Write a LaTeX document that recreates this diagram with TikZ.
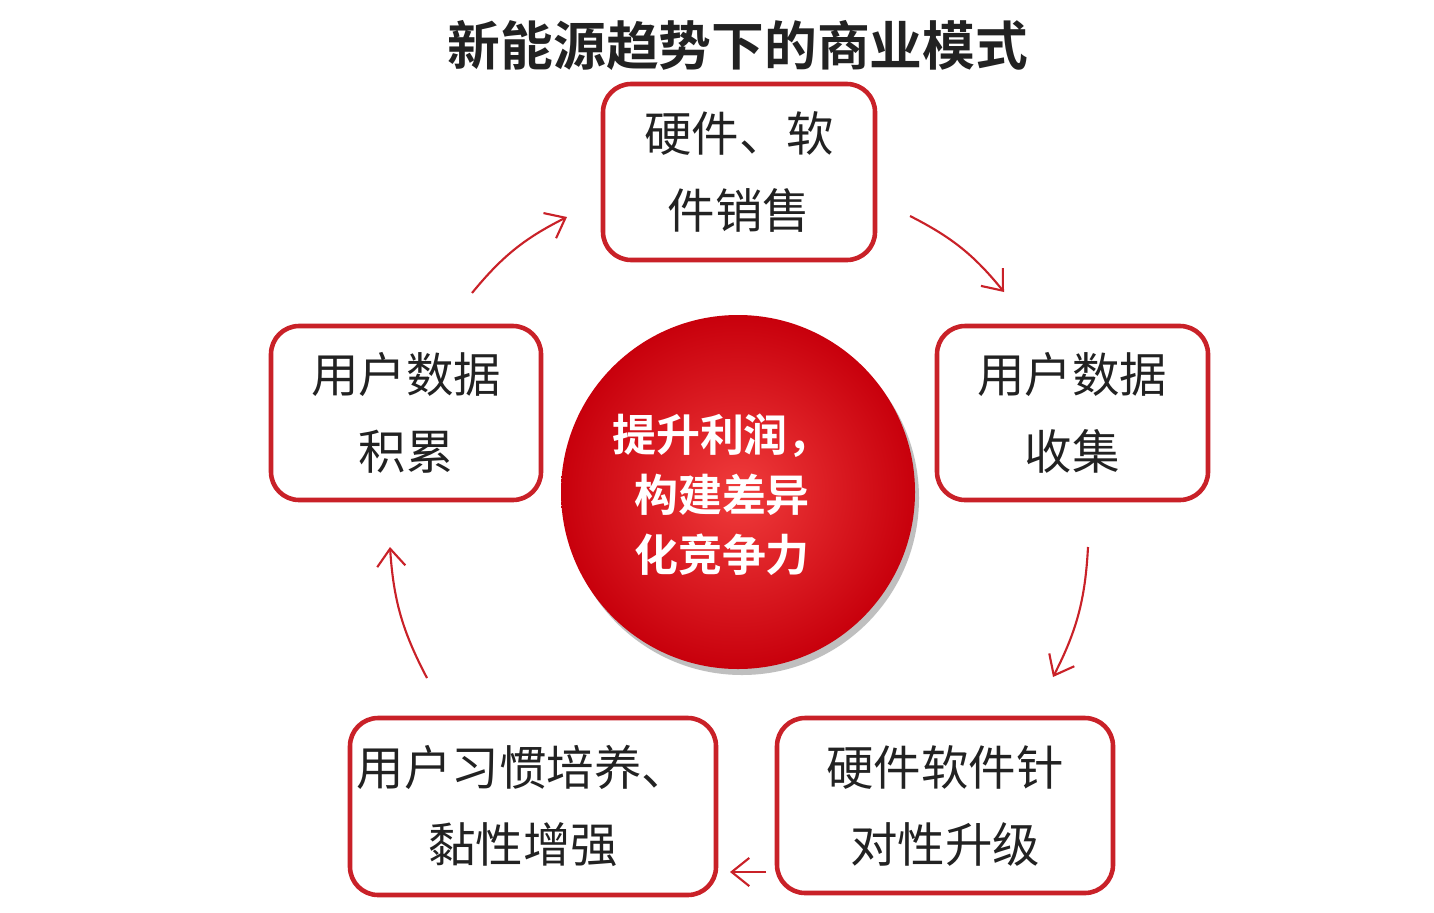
\documentclass[tikz,border=0pt]{standalone}
\usepackage{fontspec}
\newfontfamily\cjk{Noto Sans CJK SC}
\newfontfamily\cjkb{Noto Sans CJK SC Bold}
\usetikzlibrary{arrows.meta,shadows}
\definecolor{bred}{HTML}{C92128}
\definecolor{tx}{HTML}{222222}
\definecolor{cin}{RGB}{240,60,60}
\definecolor{cout}{RGB}{200,0,12}
\begin{document}
\begin{tikzpicture}[x=0.01cm,y=-0.01cm,
  frame/.style={draw=bred,line width=1.3pt,rounded corners=8pt},
  box/.style={align=center,font=\cjk\fontsize{13.5}{22}\selectfont,text=tx,inner sep=0pt},
  arr/.style={draw=bred,line width=0.6pt,-{Straight Barb[length=5pt,width=8pt]}}]
\useasboundingbox (0,0) rectangle (1434,912);
\fill[white] (0,0) rectangle (1434,912);
\node[font=\cjkb\fontsize{15}{18}\selectfont,text=tx] (title) at (738,45) {新能源趋势下的商业模式};
\draw[frame] (603,84) rectangle (875,260);
\draw[frame] (937,326) rectangle (1208,500);
\draw[frame] (271,326) rectangle (541,500);
\draw[frame] (350,718) rectangle (716,895);
\draw[frame] (777,718) rectangle (1113,893);
\node[box] (n1) at (739,172) {硬件、软\\件销售};
\node[box] (n2) at (1072,413) {用户数据\\收集};
\node[box] (n3) at (945,806) {硬件软件针\\对性升级};
\node[box] (n4) at (523,806) {用户习惯培养、\\黏性增强};
\node[box] (n5) at (406,413) {用户数据\\积累};
\fill[black!25] (742,498) circle (177);
\shade[inner color=cin,outer color=cout] (738,492) circle (177);
\node[font=\cjkb\fontsize{12.5}{17}\selectfont,text=white,align=center] (c) at (722,495) {提升利润，\\构建差异\\化竞争力};
\coordinate (a1s) at (472,293); \coordinate (a1e) at (567,217);
\coordinate (a2s) at (910,216); \coordinate (a2e) at (1004,292);
\coordinate (a3s) at (1088,547); \coordinate (a3e) at (1053,677);
\coordinate (a4s) at (766,872); \coordinate (a4e) at (730,872);
\coordinate (a5s) at (427,678); \coordinate (a5e) at (390,547);
\draw[arr] (a1s) to[bend left=12] (a1e);
\draw[arr] (a2s) to[bend left=12] (a2e);
\draw[arr] (a3s) to[bend left=12] (a3e);
\draw[arr] (a4s) -- (a4e);
\draw[arr] (a5s) to[bend left=12] (a5e);
\end{tikzpicture}
\end{document}
